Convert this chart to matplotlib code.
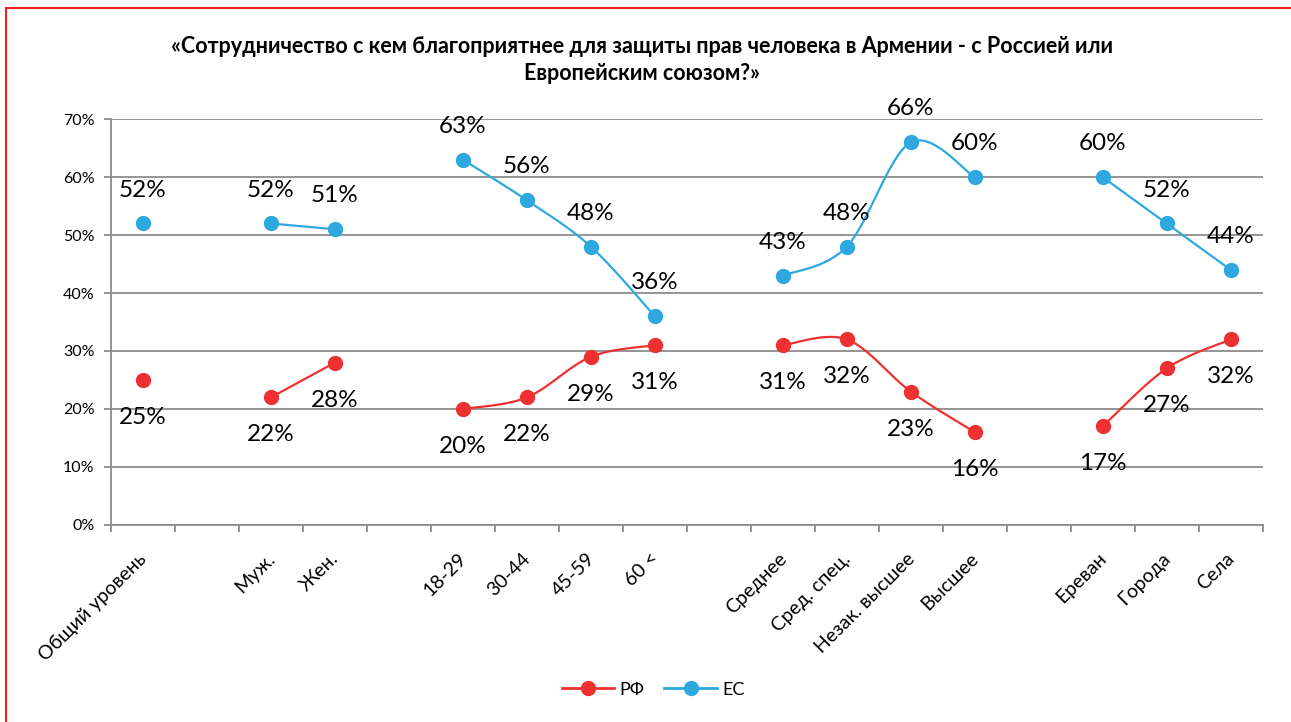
import numpy as np
import matplotlib
matplotlib.use("Agg")
import matplotlib.pyplot as plt
import matplotlib.transforms as mtransforms
from matplotlib.lines import Line2D

plt.rcParams['font.family'] = ['Lato', 'DejaVu Sans']

# Данные опроса (пустые позиции = разрывы между группами)
kategorien = ["Общий уровень", "", "Муж.", "Жен.", "", "18-29", "30-44", "45-59", "60 <", "",
              "Среднее", "Сред. спец.", "Незак. высшее", "Высшее", "", "Ереван", "Города", "Села"]
rf = [25, None, 22, 28, None, 20, 22, 29, 31, None, 31, 32, 23, 16, None, 17, 27, 32]
ec = [52, None, 52, 51, None, 63, 56, 48, 36, None, 43, 48, 66, 60, None, 60, 52, 44]

titel = ("«Сотрудничество с кем благоприятнее для защиты прав человека в Армении - с Россией или\n"
         "Европейским союзом?»")

ROT = '#EE3130'
BLAU = '#2EA8DF'
GRAU = '#8C8C8C'


def glatt(x, y, n=30):
    """Catmull-Rom Glättung wie in Excel"""
    x = np.asarray(x, float)
    y = np.asarray(y, float)
    if len(x) < 2:
        return x, y
    px = np.concatenate([[x[0]], x, [x[-1]]])
    py = np.concatenate([[y[0]], y, [y[-1]]])
    xs, ys = [], []
    t = np.linspace(0, 1, n)
    for i in range(1, len(px) - 2):
        p0, p1, p2, p3 = [np.array([px[j], py[j]]) for j in range(i - 1, i + 3)]
        c1 = p1 + (p2 - p0) / 6
        c2 = p2 - (p3 - p1) / 6
        b = ((1 - t) ** 3)[:, None] * p1 + (3 * (1 - t) ** 2 * t)[:, None] * c1 \
            + (3 * (1 - t) * t ** 2)[:, None] * c2 + (t ** 3)[:, None] * p2
        xs.extend(b[:, 0])
        ys.extend(b[:, 1])
    return np.array(xs), np.array(ys)


def segmente(werte):
    seg = []
    cur = []
    for i, v in enumerate(werte):
        if v is None:
            if cur:
                seg.append(cur)
            cur = []
        else:
            cur.append((i, v))
    if cur:
        seg.append(cur)
    return seg


fig = plt.figure(figsize=(12.91, 7.22), dpi=100)
ax = fig.add_axes([0.086, 0.273, 0.892, 0.562])

for werte, farbe, off in [(rf, ROT, -27), (ec, BLAU, 24)]:
    for s in segmente(werte):
        xs = [p[0] for p in s]
        ys = [p[1] / 100 for p in s]
        gx, gy = glatt(xs, ys)
        ax.plot(gx, gy, color=farbe, lw=1.6, zorder=3, solid_capstyle='round')
        ax.plot(xs, ys, 'o', color=farbe, ms=10, zorder=4)
        for x, y in zip(xs, ys):
            ax.annotate(f"{round(y * 100)}%", (x, y), xytext=(0, off), textcoords='offset points',
                        ha='center', va='center', fontsize=17.5, color='black')

ax.set_xlim(-0.5, len(kategorien) - 0.5)
ax.set_ylim(0, 0.70)
ax.set_yticks(np.arange(0, 0.71, 0.1))
ax.set_yticklabels([f"{int(round(v * 100))}%" for v in np.arange(0, 0.71, 0.1)], fontsize=11.5)
ax.yaxis.grid(True, color=GRAU, lw=1.3)
ax.set_axisbelow(True)

ax.set_xticks(np.arange(-0.5, len(kategorien), 1.0))
ax.set_xticklabels([])
ax.set_xticks(np.arange(len(kategorien)), minor=True)
ax.set_xticklabels(kategorien, minor=True, rotation=45, ha='right', rotation_mode='anchor', fontsize=14)
ax.tick_params(axis='x', which='minor', length=0, pad=18)
ax.tick_params(axis='x', which='major', length=5, color=GRAU, width=1.3)
ax.tick_params(axis='y', length=5, color=GRAU, width=1.3, pad=7)

verschiebung = mtransforms.ScaledTranslation(-5 / 100, 0, fig.dpi_scale_trans)
for lbl in ax.get_xticklabels(minor=True):
    lbl.set_transform(lbl.get_transform() + verschiebung)

for sp in ['top', 'right']:
    ax.spines[sp].set_visible(False)
for sp in ['left', 'bottom']:
    ax.spines[sp].set_color(GRAU)
    ax.spines[sp].set_linewidth(1.3)

fig.text(0.497, 0.917, titel, ha='center', va='center', fontsize=15.5, fontweight='bold',
         linespacing=1.4)

handles = [Line2D([], [], color=ROT, marker='o', ms=10, lw=2, label='РФ'),
           Line2D([], [], color=BLAU, marker='o', ms=10, lw=2, label='ЕС')]
fig.legend(handles=handles, loc='center', bbox_to_anchor=(0.506, 0.045), ncol=2, frameon=False,
           fontsize=13, handlelength=2.9, columnspacing=1.1, handletextpad=0.3)

# roter Rahmen (nur oben und links sichtbar)
fig.add_artist(Line2D([6 / 1291, 1], [1 - 8 / 722, 1 - 8 / 722], color='#F02020', lw=1.5,
                      transform=fig.transFigure))
fig.add_artist(Line2D([6 / 1291, 6 / 1291], [0, 1 - 8 / 722], color='#F02020', lw=1.5,
                      transform=fig.transFigure))

fig.savefig('out.png', dpi=100)
